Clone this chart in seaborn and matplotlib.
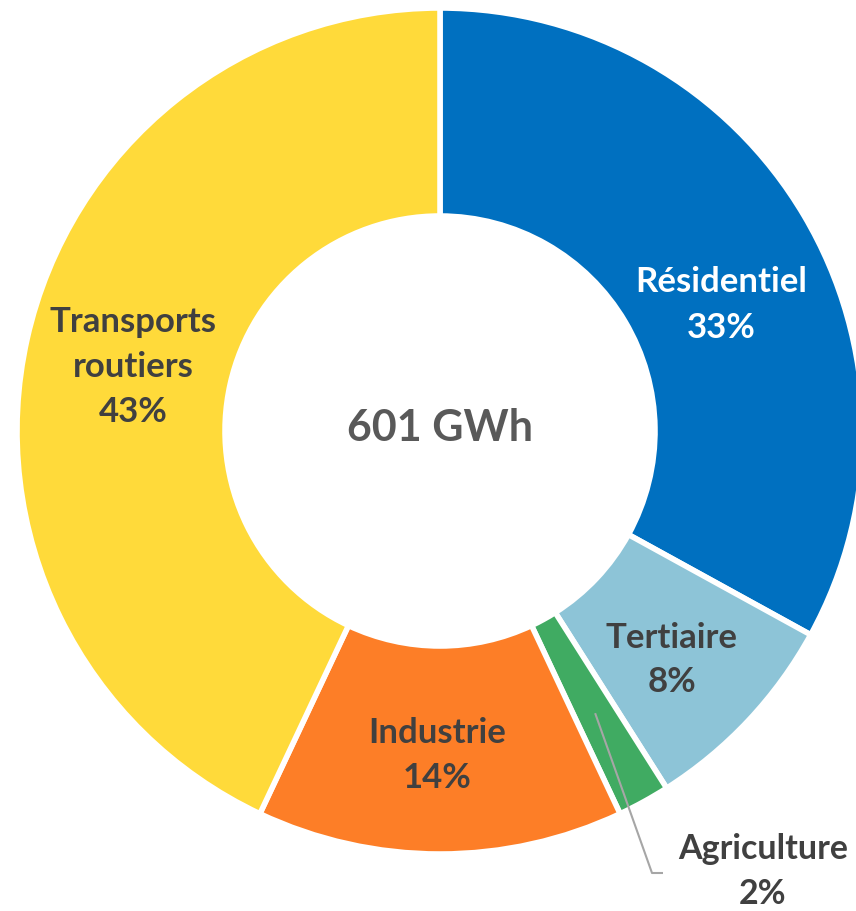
import numpy as np
import matplotlib
matplotlib.use("Agg")
import matplotlib.pyplot as plt
import seaborn as sns

sns.set_theme(style="white")
plt.rcParams['font.family'] = ['Lato', 'DejaVu Sans']

# Final energy consumption by sector
sectors = ["Résidentiel", "Tertiaire", "Agriculture", "Industrie", "Transports\nroutiers"]
shares = [33, 8, 2, 14, 43]
colors = ["#0070C0", "#8DC4D7", "#40AB62", "#FD7E27", "#FFDA3A"]
total_label = "601 GWh"

W, H = 856, 912
fig = plt.figure(figsize=(W / 100, H / 100), dpi=100)
ax = fig.add_axes([0, 0, 1, 1])

cx, cy = 440, H - 432
R, ring = 423, 208

wedges, _ = ax.pie(shares, colors=colors, startangle=90, counterclock=False,
                   center=(cx, cy), radius=R, frame=True,
                   wedgeprops=dict(width=ring, edgecolor="white", linewidth=4))
ax.set_xlim(0, W)
ax.set_ylim(0, H)
ax.set_aspect("equal")
ax.axis("off")

dark = "#404040"
fs = 25
ls = 1.5
label_pos = [(721, H - 305), (672, H - 660), None, (437, H - 756), (133, H - 367)]
for name, val, pos, col in zip(sectors, shares, label_pos,
                               ["white", dark, dark, dark, dark]):
    if pos is None:
        continue
    ax.text(pos[0], pos[1], f"{name}\n{val}%", ha="center", va="center",
            fontsize=fs, fontweight="bold", color=col, linespacing=ls)

# Agriculture: label outside with a leader line
w = wedges[2]
mid = np.deg2rad((w.theta1 + w.theta2) / 2)
r0 = 322
x0, y0 = cx + r0 * np.cos(mid), cy + r0 * np.sin(mid)
ax.plot([x0, 652, 663], [y0, H - 874, H - 874], color="#A6A6A6", lw=1.5,
        solid_capstyle="butt")
ax.text(763, H - 872, f"{sectors[2]}\n{shares[2]}%", ha="center", va="center",
        fontsize=fs - 0.5, fontweight="bold", color=dark, linespacing=ls)

ax.text(cx, H - 428, total_label, ha="center", va="center", fontsize=31,
        fontweight="bold", color="#595959")

fig.savefig("out.png", dpi=100)
